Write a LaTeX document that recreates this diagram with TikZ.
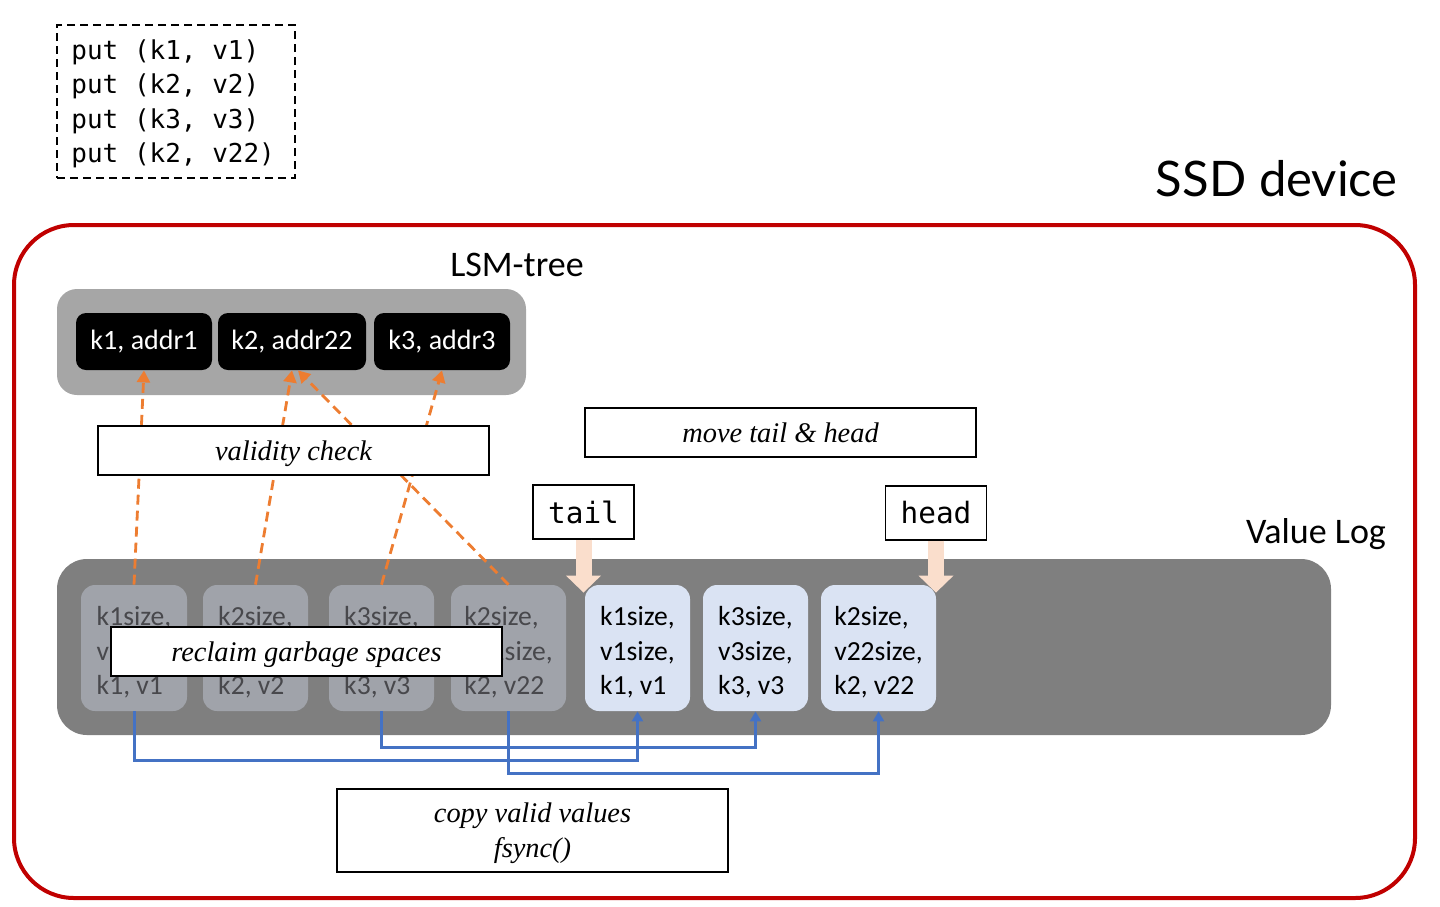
\documentclass[tikz,border=0pt]{standalone}
\usepackage{fontspec}
\setmainfont{Liberation Serif}
\newfontfamily\calibf{Carlito}
\newfontfamily\monof{DejaVu Sans Mono}
\newfontfamily\gillf{Lato}
\usetikzlibrary{arrows.meta}
\newcommand\entrystrut{\rule{0pt}{14pt}}
\definecolor{ssdred}{RGB}{192,0,0}
\definecolor{lsmgray}{RGB}{166,166,166}
\definecolor{loggray}{RGB}{127,127,127}
\definecolor{oldfill}{RGB}{160,163,170}
\definecolor{oldtext}{RGB}{72,72,76}
\definecolor{newfill}{RGB}{218,227,243}
\definecolor{orangeln}{RGB}{237,125,49}
\definecolor{blueln}{RGB}{68,114,196}
\definecolor{peach}{RGB}{250,222,204}
\tikzset{
  keybox/.style={fill=black, rounded corners=5pt, text=white, inner sep=0pt,
    minimum height=28.5pt, font=\calibf\fontsize{14}{17}\selectfont},
  entry/.style={rounded corners=7pt, inner sep=0pt, minimum width=52.5pt,
    minimum height=63pt, align=left, font=\calibf\fontsize{13.8}{17.25}\selectfont},
  oldentry/.style={entry, fill=oldfill, text=oldtext},
  newentry/.style={entry, fill=newfill, text=black},
  labelbox/.style={draw=black, fill=white, line width=0.6pt, inner sep=0pt,
    minimum width=195.5pt, minimum height=24.5pt, text depth=0pt,
    font=\itshape\fontsize{14.2}{17.5}\selectfont, align=center},
  ptrbox/.style={draw=black, fill=white, line width=0.6pt, inner sep=0pt,
    minimum width=50.5pt, minimum height=27pt, font=\monof\fontsize{14.7}{17}\selectfont},
  checkarrow/.style={orangeln, line width=1.4pt, dash pattern=on 5pt off 3pt,
    -{Triangle[length=6pt,width=6.5pt]}},
  copyarrow/.style={blueln, line width=1.5pt, -{Triangle[length=5pt,width=5.5pt]}},
  movearrow/.style={peach, line width=8pt, -{Triangle[length=8.5pt,width=17pt]}},
  title/.style={font=\calibf\fontsize{18}{20}\selectfont, inner sep=0pt}
}
\begin{document}
\begin{tikzpicture}[x=0.5pt,y=-0.5pt]
\useasboundingbox (0,0) rectangle (1440,906);

% code listing
\node[draw=black, line width=0.75pt, dash pattern=on 4pt off 2.5pt,
  minimum width=119pt, minimum height=76.5pt, inner sep=0pt] (code) at (176,101.5) {};
\node[anchor=west, align=left, inner sep=0pt, font=\monof\fontsize{13}{17.2}\selectfont]
  (codetext) at (71,104) {put (k1, v1)\\put (k2, v2)\\put (k3, v3)\\put (k2, v22)};

% SSD device
\node[anchor=east, inner sep=0pt, font=\gillf\fontsize{24.5}{28}\selectfont] (ssdlabel) at (1398,179) {SSD device};
\node[draw=ssdred, line width=2pt, rounded corners=30pt, minimum width=700.5pt,
  minimum height=336.5pt, inner sep=0pt] (ssd) at (714.5,561.5) {};

% LSM tree
\node[title] (lsmlabel) at (517,265) {LSM-tree};
\node[fill=lsmgray, rounded corners=10pt, minimum width=234.5pt, minimum height=53pt, inner sep=0pt]
  (lsm) at (291.5,342) {};
\node[keybox, minimum width=68pt] (k1) at (144,341.5) {k1, addr1};
\node[keybox, minimum width=74pt] (k2) at (292,341.5) {k2, addr22};
\node[keybox, minimum width=68pt] (k3) at (442,341.5) {k3, addr3};

% Value log
\node[title] (vloglabel) at (1316,534) {Value Log};
\node[fill=loggray, rounded corners=15pt, minimum width=637pt, minimum height=88pt, inner sep=0pt]
  (vlog) at (694,647) {};

\node[oldentry, minimum width=53pt] (oA) at (134,648) {\entrystrut k1size,\\v1size,\\k1, v1};
\node[oldentry] (oB) at (255.5,648) {\entrystrut k2size,\\v2size,\\k2, v2};
\node[oldentry] (oC) at (381.5,648) {\entrystrut k3size,\\v3size,\\k3, v3};
\node[oldentry, minimum width=57.5pt] (oD) at (508.5,648) {\entrystrut k2size,\\v22size,\\k2, v22};
\node[newentry] (nE) at (637.5,648) {\entrystrut k1size,\\v1size,\\k1, v1};
\node[newentry] (nF) at (755.5,648) {\entrystrut k3size,\\v3size,\\k3, v3};
\node[newentry, minimum width=57.5pt] (nG) at (878.5,648) {\entrystrut k2size,\\v22size,\\k2, v22};

% copy arrows
\draw[copyarrow] (oA.south) -- ++(0,49) -| (nE.south);
\draw[copyarrow] (oC.south) -- ++(0,36) -| (nF.south);
\draw[copyarrow] (oD.south) -- ++(0,62) -| (nG.south);

% validity check arrows
\draw[checkarrow] (oA.north) -- (k1.south);
\draw[checkarrow] (oB.north) -- (k2.south);
\draw[checkarrow] (oC.north) -- (k3.south);
\draw[checkarrow] (oD.north) -- ([xshift=3pt]k2.south);

% labels
\node[labelbox] (validity) at (293.5,450.5) {validity check};
\node[labelbox] (reclaim) at (306.5,651.5) {reclaim garbage spaces};
\node[labelbox] (move) at (780.5,432.5) {move tail \& head};
\node[labelbox, minimum height=41.5pt] (copy) at (532.5,830.5) {copy valid values\\fsync()};

% tail & head
\node[ptrbox] (tail) at (583.5,512) {tail};
\node[ptrbox] (head) at (936,513) {head};
\draw[movearrow] (tail.south) -- ++(0,53);
\draw[movearrow] (head.south) -- ++(0,52);
\end{tikzpicture}
\end{document}
